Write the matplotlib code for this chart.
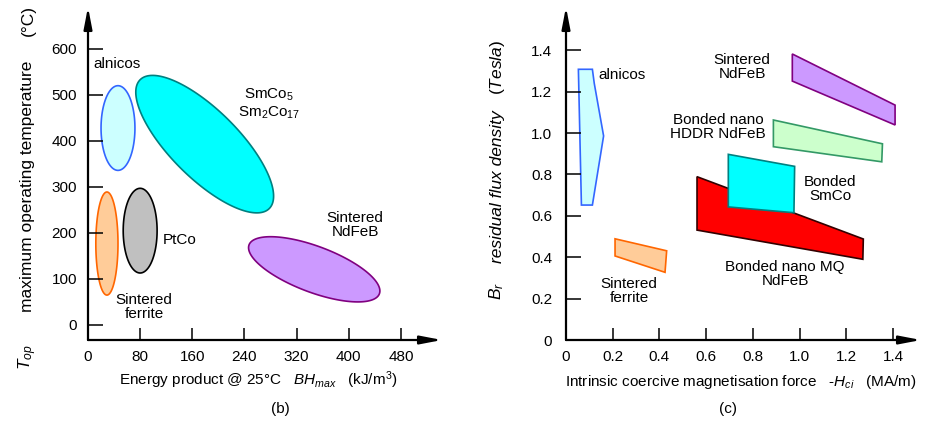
import numpy as np
import matplotlib.pyplot as plt
from matplotlib.patches import Polygon

plt.rcParams['font.family'] = ['Liberation Sans', 'DejaVu Sans']
plt.rcParams['mathtext.fontset'] = 'custom'
plt.rcParams['mathtext.rm'] = 'Liberation Sans'
plt.rcParams['mathtext.it'] = 'Liberation Sans:italic'
plt.rcParams['mathtext.bf'] = 'Liberation Sans:bold'

W, H = 930, 421

# ---- (b) energy product vs max operating temperature (ellipses) ----
# centre (kJ/m3, degC) and the two semi-axis vectors in data units
ell_names = ['alnicos', 'ferrite', 'PtCo', 'SmCo', 'NdFeB']
ell_center = [(46, 428), (29, 177), (80, 205), (179, 393), (347, 121)]
ell_u = [(26, 0), (17, 0), (26, 0), (99, -140), (100, -53)]
ell_v = [(0, 92), (0, 112), (0, 92), (37, 52), (12, 47)]
ell_face = ['#ccffff', '#ffcc99', '#c0c0c0', '#00ffff', '#cc99ff']
ell_edge = ['#3366ff', '#ff6600', '#000000', '#008080', '#800080']

b_xticks = [0, 80, 160, 240, 320, 400, 480]
b_yticks = [0, 100, 200, 300, 400, 500, 600]

# ---- (c) coercivity vs remanence (polygons) ----
poly_names = ['alnicos', 'ferrite', 'MQ', 'SmCo', 'HDDR', 'NdFeB']
poly_pts = [
    [(0.053, 1.308), (0.113, 1.308), (0.121, 1.240), (0.161, 0.986),
     (0.113, 0.652), (0.066, 0.652)],
    [(0.210, 0.489), (0.431, 0.431), (0.424, 0.327), (0.210, 0.406)],
    [(0.561, 0.789), (1.273, 0.488), (1.271, 0.390), (0.561, 0.531)],
    [(0.695, 0.897), (0.979, 0.839), (0.976, 0.615), (0.695, 0.643)],
    [(0.888, 1.063), (1.355, 0.948), (1.352, 0.861), (0.888, 0.934)],
    [(0.969, 1.382), (1.409, 1.135), (1.409, 1.039), (0.969, 1.251)],
]
poly_face = ['#ccffff', '#ffcc99', '#ff0000', '#00ffff', '#ccffcc', '#cc99ff']
poly_edge = ['#3366ff', '#ff6600', '#330000', '#008080', '#339966', '#800080']

c_xticks = [0, 0.2, 0.4, 0.6, 0.8, 1.0, 1.2, 1.4]
c_xlabels = ['0', '0.2', '0.4', '0.6', '0.8', '1.0', '1.2', '1.4']
c_yticks = [0, 0.2, 0.4, 0.6, 0.8, 1.0, 1.2, 1.4]
c_ylabels = ['0', '0.2', '0.4', '0.6', '0.8', '1.0', '1.2', '1.4']


def px(x, y):
    return x / W, 1 - y / H


def axes_at(left, top, right, bottom):
    return fig.add_axes([left / W, 1 - bottom / H, (right - left) / W, (bottom - top) / H])


def arrow_axes(ax):
    for s in ax.spines.values():
        s.set_visible(False)
    kw = dict(arrowstyle='-|>,head_length=1.3,head_width=0.25', color='black',
              lw=1.6, mutation_scale=10, shrinkA=0, shrinkB=0)
    ax.annotate('', xy=(1, 0), xytext=(0, 0), xycoords='axes fraction', arrowprops=kw)
    ax.annotate('', xy=(0, 1), xytext=(0, 0), xycoords='axes fraction', arrowprops=kw)


fig = plt.figure(figsize=(W / 100, H / 100), dpi=100)

# ---------------- panel (b) ----------------
ax1 = axes_at(88, 7, 442, 340)
ax1.set_xlim(0, 543)
ax1.set_ylim(-32.6, 691)
arrow_axes(ax1)
t = np.linspace(0, 2 * np.pi, 300)
for c, u, v, fc, ec in zip(ell_center, ell_u, ell_v, ell_face, ell_edge):
    xs = c[0] + u[0] * np.cos(t) + v[0] * np.sin(t)
    ys = c[1] + u[1] * np.cos(t) + v[1] * np.sin(t)
    ax1.add_patch(Polygon(np.column_stack([xs, ys]), closed=True,
                          facecolor=fc, edgecolor=ec, lw=1.2))
ax1.set_xticks(b_xticks)
ax1.set_yticks(b_yticks)
ax1.tick_params(axis='x', direction='in', length=9, width=1.1, pad=7, labelsize=11)
ax1.tick_params(axis='y', direction='in', length=11, width=1.1, pad=8, labelsize=11)

fs = 11
fig.text(*px(117, 64), 'alnicos', ha='center', va='center', fontsize=fs)
fig.text(*px(269, 95), 'SmCo$_5$', ha='center', va='center', fontsize=fs)
fig.text(*px(269, 113), 'Sm$_2$Co$_{17}$', ha='center', va='center', fontsize=fs)
fig.text(*px(163, 240), 'PtCo', ha='left', va='center', fontsize=fs)
fig.text(*px(144, 307), 'Sintered\nferrite', ha='center', va='center', fontsize=fs,
         linespacing=1.05)
fig.text(*px(355, 225), 'Sintered\nNdFeB', ha='center', va='center', fontsize=fs,
         linespacing=1.05)

fig.text(*px(28, 186), 'maximum operating temperature', rotation=90,
         ha='center', va='center', fontsize=12.5)
fig.text(*px(28, 21), '(°C)', rotation=90, ha='center', va='center', fontsize=12.5)
fig.text(*px(28, 357), r'$T_{op}$', rotation=90, ha='center', va='center', fontsize=12.5)
fig.text(*px(258, 380), r'Energy product @ 25°C   $BH_{max}$   (kJ/m$^3$)',
         ha='center', va='center', fontsize=11)
fig.text(*px(280, 409), '(b)', ha='center', va='center', fontsize=11)

# ---------------- panel (c) ----------------
ax2 = axes_at(566, 7, 921, 340)
ax2.set_xlim(0, 1.52)
ax2.set_ylim(0, 1.609)
arrow_axes(ax2)
for pts, fc, ec in zip(poly_pts, poly_face, poly_edge):
    ax2.add_patch(Polygon(pts, closed=True, facecolor=fc, edgecolor=ec, lw=1.2))
ax2.set_xticks(c_xticks, c_xlabels)
ax2.set_yticks(c_yticks, c_ylabels)
ax2.tick_params(axis='x', direction='in', length=9, width=1.1, pad=7, labelsize=11)
ax2.tick_params(axis='y', direction='in', length=11, width=1.1, pad=10, labelsize=11)

fig.text(*px(598, 75), 'alnicos', ha='left', va='center', fontsize=fs)
fig.text(*px(742, 67), 'Sintered\nNdFeB', ha='center', va='center', fontsize=fs,
         linespacing=1.05)
fig.text(*px(718, 127), 'Bonded nano\nHDDR NdFeB', ha='center', va='center',
         fontsize=fs, linespacing=1.05)
fig.text(*px(830, 189), 'Bonded\nSmCo', ha='center', va='center', fontsize=fs,
         linespacing=1.05)
fig.text(*px(785, 274), 'Bonded nano MQ\nNdFeB', ha='center', va='center',
         fontsize=fs, linespacing=1.05)
fig.text(*px(629, 291), 'Sintered\nferrite', ha='center', va='center', fontsize=fs,
         linespacing=1.05)

fig.text(*px(497, 187), 'residual flux density', rotation=90, style='italic',
         ha='center', va='center', fontsize=12.5)
fig.text(*px(497, 67), '($Tesla$)', rotation=90, ha='center', va='center', fontsize=12.5)
fig.text(*px(497, 291), r'$B_r$', rotation=90, ha='center', va='center', fontsize=12.5)
fig.text(*px(741, 382), r'Intrinsic coercive magnetisation force   -$H_{ci}$   (MA/m)',
         ha='center', va='center', fontsize=11)
fig.text(*px(728, 409), '(c)', ha='center', va='center', fontsize=11)

fig.savefig('out.png', dpi=100)
